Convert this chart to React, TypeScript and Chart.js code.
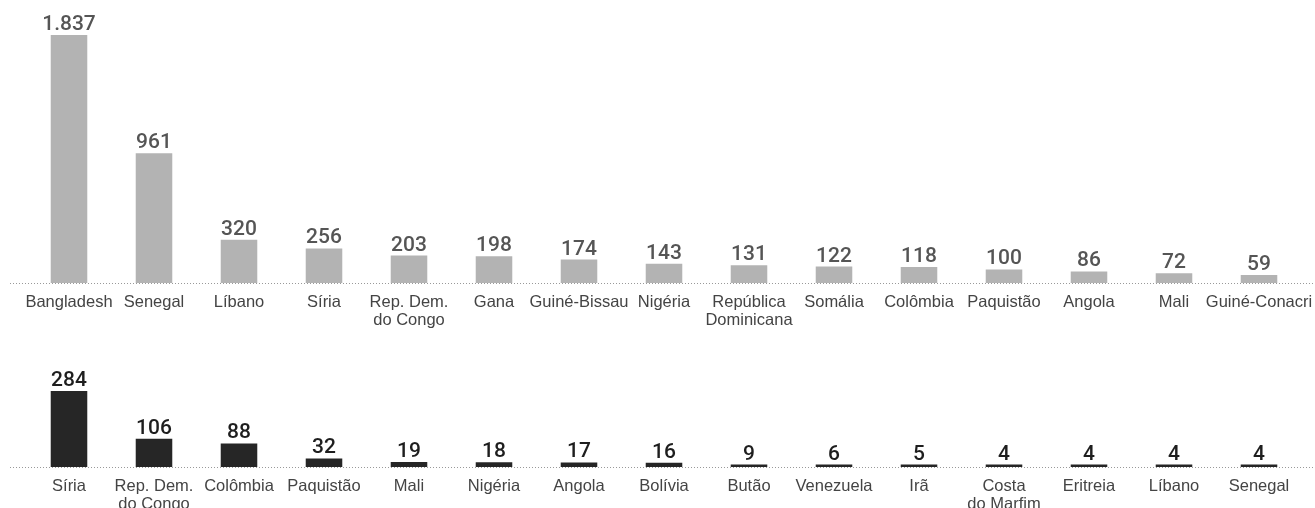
import React, { useEffect, useRef } from "react";
import { Chart, registerables } from "chart.js";

Chart.register(...registerables);

const topCategories: (string | string[])[] = [
  "Bangladesh", "Senegal", "Líbano", "Síria", ["Rep. Dem.", "do Congo"], "Gana",
  "Guiné-Bissau", "Nigéria", ["República", "Dominicana"], "Somália", "Colômbia",
  "Paquistão", "Angola", "Mali", "Guiné-Conacri",
];
const topValues = [1837, 961, 320, 256, 203, 198, 174, 143, 131, 122, 118, 100, 86, 72, 59];

const bottomCategories: (string | string[])[] = [
  "Síria", ["Rep. Dem.", "do Congo"], "Colômbia", "Paquistão", "Mali", "Nigéria",
  "Angola", "Bolívia", "Butão", "Venezuela", "Irã", ["Costa", "do Marfim"],
  "Eritreia", "Líbano", "Senegal",
];
const bottomValues = [284, 106, 88, 32, 19, 18, 17, 16, 9, 6, 5, 4, 4, 4, 4];

const fmt = (v: number) => String(v).replace(/\B(?=(\d{3})+(?!\d))/g, ".");

function makeConfig(
  labels: (string | string[])[],
  values: number[],
  barColor: string,
  valueColor: string,
  valueWeight: string,
  padTop: number,
  axisHeight: number
): any {
  const valuePlugin = {
    id: "valueLabels",
    afterDatasetsDraw(chart: any) {
      const ctx = chart.ctx;
      const meta = chart.getDatasetMeta(0);
      ctx.save();
      ctx.font = valueWeight + " 21px Roboto";
      ctx.fillStyle = valueColor;
      ctx.textAlign = "center";
      ctx.textBaseline = "alphabetic";
      meta.data.forEach((bar: any, i: number) => {
        ctx.fillText(fmt(values[i]), bar.x, bar.y - 5);
      });
      ctx.restore();
    },
  };
  const baselinePlugin = {
    id: "dottedBaseline",
    beforeDatasetsDraw(chart: any) {
      const ctx = chart.ctx;
      const y = Math.round(chart.scales.y.getPixelForValue(0)) + 0.5;
      ctx.save();
      ctx.strokeStyle = "#999";
      ctx.lineWidth = 1;
      ctx.setLineDash([1, 2]);
      ctx.beginPath();
      ctx.moveTo(10, y);
      ctx.lineTo(chart.width, y);
      ctx.stroke();
      ctx.restore();
    },
  };
  return {
    type: "bar",
    data: {
      labels,
      datasets: [
        {
          data: values,
          backgroundColor: barColor,
          barPercentage: 0.43,
          categoryPercentage: 1,
          minBarLength: 2.5,
        },
      ],
    },
    options: {
      animation: false,
      responsive: false,
      maintainAspectRatio: false,
      layout: { padding: { top: padTop, left: 26.5, right: 13.5, bottom: 0 } },
      plugins: { legend: { display: false }, tooltip: { enabled: false } },
      scales: {
        x: {
          grid: { display: false, drawTicks: false },
          border: { display: false },
          ticks: {
            autoSkip: false,
            maxRotation: 0,
            minRotation: 0,
            padding: 11,
            color: "#444",
            font: { family: "'Liberation Sans', Arial, sans-serif", size: 16.5, lineHeight: 1.05 },
          },
          afterFit: (scale: any) => {
            scale.height = axisHeight;
            scale.paddingLeft = 0;
            scale.paddingRight = 0;
          },
        },
        y: {
          display: false,
          min: 0,
          max: values[0],
        },
      },
    },
    plugins: [baselinePlugin, valuePlugin],
  };
}

function BarChart(props: {
  labels: (string | string[])[];
  values: number[];
  barColor: string;
  valueColor: string;
  valueWeight: string;
  top: number;
  height: number;
  padTop: number;
  axisHeight: number;
}) {
  const ref = useRef<HTMLCanvasElement | null>(null);
  useEffect(() => {
    if (!ref.current) return;
    const chart = new Chart(
      ref.current,
      makeConfig(
        props.labels,
        props.values,
        props.barColor,
        props.valueColor,
        props.valueWeight,
        props.padTop,
        props.axisHeight
      )
    );
    return () => chart.destroy();
  }, []);
  return (
    <canvas
      ref={ref}
      width={1315}
      height={props.height}
      style={{ position: "absolute", left: 0, top: props.top, width: 1315, height: props.height }}
    />
  );
}

export default function App() {
  return (
    <div
      style={{
        position: "fixed",
        left: 0,
        top: 0,
        width: 1315,
        height: 508,
        background: "#fff",
        overflow: "hidden",
      }}
    >
      <BarChart
        labels={topCategories}
        values={topValues}
        barColor="#b3b3b3"
        valueColor="#555"
        valueWeight="500"
        top={0}
        height={345}
        padTop={35}
        axisHeight={62}
      />
      <BarChart
        labels={bottomCategories}
        values={bottomValues}
        barColor="#262626"
        valueColor="#1e1e1e"
        valueWeight="500"
        top={345}
        height={163}
        padTop={46}
        axisHeight={41}
      />
    </div>
  );
}
